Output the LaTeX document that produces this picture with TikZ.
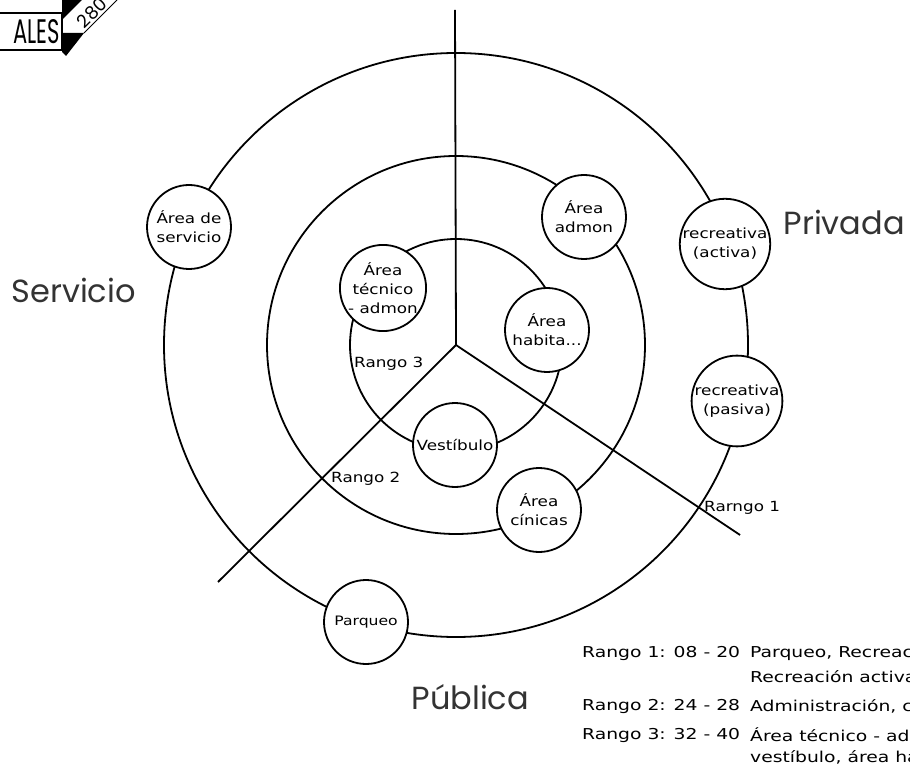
\documentclass[tikz,border=0pt]{standalone}
\usepackage{fontspec}
\setmainfont{DejaVu Sans}
\newfontfamily\zonefont{Poppins}
\newfontfamily\notefont[FakeStretch=1.2]{DejaVu Sans}
\newfontfamily\keyfont[FakeStretch=1.25]{DejaVu Sans}
\begin{document}
\begin{tikzpicture}[x=1pt,y=-1pt,
  ring/.style={line width=1.8pt},
  ray/.style={line width=1.8pt},
  space/.style={circle,draw,line width=1.8pt,fill=white,minimum size=84pt,inner sep=0pt,
    align=center,font=\notefont\fontsize{14}{19}\selectfont},
  zone/.style={anchor=west,font=\zonefont\fontsize{32}{34}\selectfont,text=black!80},
  rango/.style={anchor=west,inner sep=0pt,font=\notefont\fontsize{14}{16}\selectfont},
  legend/.style={anchor=west,inner sep=0pt,font=\keyfont\fontsize{15}{17}\selectfont}]
\useasboundingbox (0,0) rectangle (910,775);
\begin{scope}
\clip (0,0) rectangle (910,775);

% centre of the zoning rings
\coordinate (o) at (456,345);
\coordinate (top) at (455,10);
\coordinate (sw) at (218,582);
\coordinate (se) at (740,535);

% three concentric ranges
\draw[ring] (o) circle[radius=292];
\draw[ring] (o) circle[radius=189];
\draw[ring] (o) circle[radius=106];

% sector dividers
\draw[ray] (o) -- (top);
\draw[ray] (o) -- (sw);
\draw[ray] (o) -- (se);

% spaces
\node[space] (serv) at (189,227) {Área de\\servicio};
\node[space] (admon) at (584,217) {Área\\admon};
\node[space] (ract) at (725,244) {recreativa\\(activa)};
\node[space] (rpas) at (737,401) {recreativa\\(pasiva)};
\node[space] (tec) at (383,288) {Área\\técnico\\- admon};
\node[space] (hab) at (547,330) {Área\\habita...};
\node[space] (vest) at (455,445) {Vestíbulo};
\node[space] (clin) at (539,510) {Área\\cínicas};
\node[space,font=\notefont\fontsize{13}{16}\selectfont] (parq) at (366,622) {Parqueo};

% zone names
\node[zone] (servicio) at (8,290) {Servicio};
\node[zone] (privada) at (780,222) {Privada};
\node[zone] (publica) at (408,697) {Pública};

% range labels
\node[rango] (r3) at (354,364) {Rango 3};
\node[rango] (r2) at (331,479) {Rango 2};
\node[rango] (r1) at (704,508) {Rarngo 1};

% legend
\node[legend] (l1) at (582,653) {Rango 1: 08 - 20};
\node[legend] (l1a) at (750,653) {Parqueo, Recreación pasiva,};
\node[legend] (l1b) at (750,676) {Recreación activa, Área de servicio};
\node[legend] (l2) at (582,706) {Rango 2: 24 - 28};
\node[legend] (l2a) at (750,706) {Administración, clínicas};
\node[legend] (l3) at (582,735) {Rango 3: 32 - 40};
\node[legend] (l3a) at (750,735) {Área técnico - admon,};
\node[legend] (l3b) at (750,757) {vestíbulo, área habitacional};

% sheet tab in the corner
\fill[black] (62,0) -- (82,0) -- (62,20) -- cycle;
\fill[black] (62,33) -- (84,33) -- (66,56) -- (62,52) -- cycle;
\draw[line width=1pt] (117,0) -- (84,33);
\node[rotate=45,font=\zonefont\fontsize{18}{20}\selectfont] (sheet) at (92,13) {280};
\draw[line width=1.4pt,fill=white] (-2,13) rectangle (62,50);
\node[anchor=east,inner sep=0pt,font=\zonefont\fontsize{34}{36}\selectfont] (title) at (60,32) {\scalebox{0.62}[1]{ALES}};
\end{scope}
\end{tikzpicture}
\end{document}
